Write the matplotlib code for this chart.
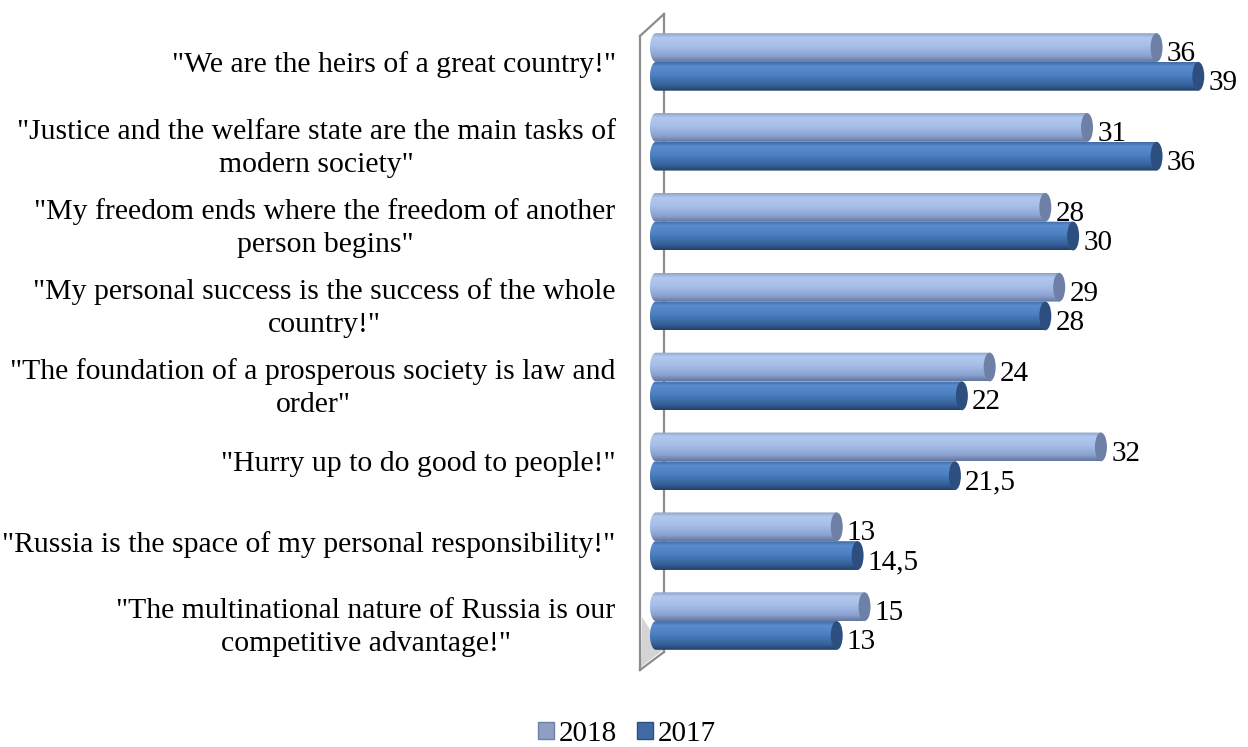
import numpy as np
import matplotlib
matplotlib.use("Agg")
from matplotlib import pyplot as plt
from matplotlib.patches import Ellipse, PathPatch, Patch, Polygon
from matplotlib.path import Path
from matplotlib.lines import Line2D

plt.rcParams['font.family'] = ['Liberation Serif', 'DejaVu Serif']

categories = ['"We are the heirs of a great country!"',
              '"Justice and the welfare state are the main tasks of\nmodern society"',
              '"My freedom ends where the freedom of another\nperson begins"',
              '"My personal success is the success of the whole\ncountry!"',
              '"The foundation of a prosperous society is law and\norder"',
              '"Hurry up to do good to people!"',
              '"Russia is the space of my personal responsibility!"',
              '"The multinational nature of Russia is our\ncompetitive advantage!"']
v2018 = [36, 31, 28, 29, 24, 32, 13, 15]
v2017 = [39, 36, 30, 28, 22, 21.5, 14.5, 13]
series_names = ['2018', '2017']

# цвета цилиндров: профиль сверху вниз
light_prof = [(0.0, '#8ea2c8'), (0.15, '#b3c8ee'), (0.45, '#a6bee8'), (0.8, '#8aa1cf'), (1.0, '#63769c')]
dark_prof = [(0.0, '#3f6aa6'), (0.15, '#5a8dd0'), (0.45, '#4b80c2'), (0.8, '#36629a'), (1.0, '#233f66')]
light_cap = '#6e80a6'
dark_cap = '#2d4f80'

W, H = 1248, 747
fig = plt.figure(figsize=(W / 100, H / 100), dpi=100, facecolor='white')


def px(x, y):
    return (x / W, 1 - y / H)


# оси: 0 на 656px, 13.9 px на единицу
ax_left = 649
ax_right = 1240
ax_top = 22
ax_bot = 661
ax = fig.add_axes([ax_left / W, 1 - ax_bot / H, (ax_right - ax_left) / W, (ax_bot - ax_top) / H])
ax.patch.set_visible(False)


def grad_img(prof):
    t = np.linspace(0, 1, 80)
    cols = np.array([matplotlib.colors.to_rgb(c) for _, c in prof])
    pos = [p for p, _ in prof]
    img = np.zeros((80, 1, 3))
    for k in range(3):
        img[:, 0, k] = np.interp(t, pos, cols[:, k])
    return img


h = 0.36
a = 0.43
img_light = grad_img(light_prof)
img_dark = grad_img(dark_prof)

for i in range(len(categories)):
    for vals, img, cap, off in [(v2018, img_light, light_cap, -h / 2), (v2017, img_dark, dark_cap, h / 2)]:
        v = vals[i]
        yc = i + off
        im = ax.imshow(img, extent=(-a, v, yc + h / 2, yc - h / 2), aspect='auto',
                       origin='upper', interpolation='bilinear', zorder=2)
        th = np.linspace(0, np.pi, 30)
        verts = [(0, yc - h / 2), (v, yc - h / 2), (v, yc + h / 2), (0, yc + h / 2)]
        verts += [(-a * np.sin(t), yc + h / 2 * np.cos(t)) for t in th]
        clip = PathPatch(Path(verts + [verts[0]]), transform=ax.transData)
        im.set_clip_path(clip)
        ax.add_patch(Ellipse((v, yc), 2 * a, h, facecolor=cap, edgecolor='none', zorder=3))
        lab = ('%g' % v).replace('.', ',')
        ax.text(v + a + 0.3, yc + h / 2 - 0.01, lab, ha='left', va='baseline', fontsize=21, zorder=4)

ax.set_xlim(-0.5, 42)
ax.set_ylim(len(categories) - 0.5, -0.5)
ax.set_yticks(range(len(categories)))
ax.set_yticklabels(categories, fontsize=21.4)
for t in ax.get_yticklabels():
    t.set_multialignment('center')
    t.set_linespacing(1.35)
ax.tick_params(axis='y', length=0, pad=24)
ax.set_xticks([])
for s in ax.spines.values():
    s.set_visible(False)

# стенка 3D
wall_c = '#8c8c8c'
fig.add_artist(Polygon([px(642, 617), px(663, 650), px(641, 667)], closed=True,
                       facecolor='#d4d4d4', edgecolor='none', transform=fig.transFigure, zorder=-2))
for xs, ys in [([640, 640], [36, 670]), ([640, 664], [36, 14]), ([664, 664], [14, 652]), ([640, 664], [670, 652])]:
    p0 = px(xs[0], ys[0])
    p1 = px(xs[1], ys[1])
    fig.add_artist(Line2D([p0[0], p1[0]], [p0[1], p1[1]], color=wall_c, lw=1.6,
                          transform=fig.transFigure, zorder=-1))

handles = [Patch(facecolor='#8e9fc2', edgecolor='#6e80a6'), Patch(facecolor='#3f6aa6', edgecolor='#2d4f80')]
fig.legend(handles, series_names, loc='center', bbox_to_anchor=px(627, 734), ncol=2, frameon=False,
           fontsize=21, handlelength=0.55, handleheight=0.55, handletextpad=0.15, columnspacing=0.7,
           borderaxespad=0)

fig.savefig('out.png', dpi=100, facecolor='white')
